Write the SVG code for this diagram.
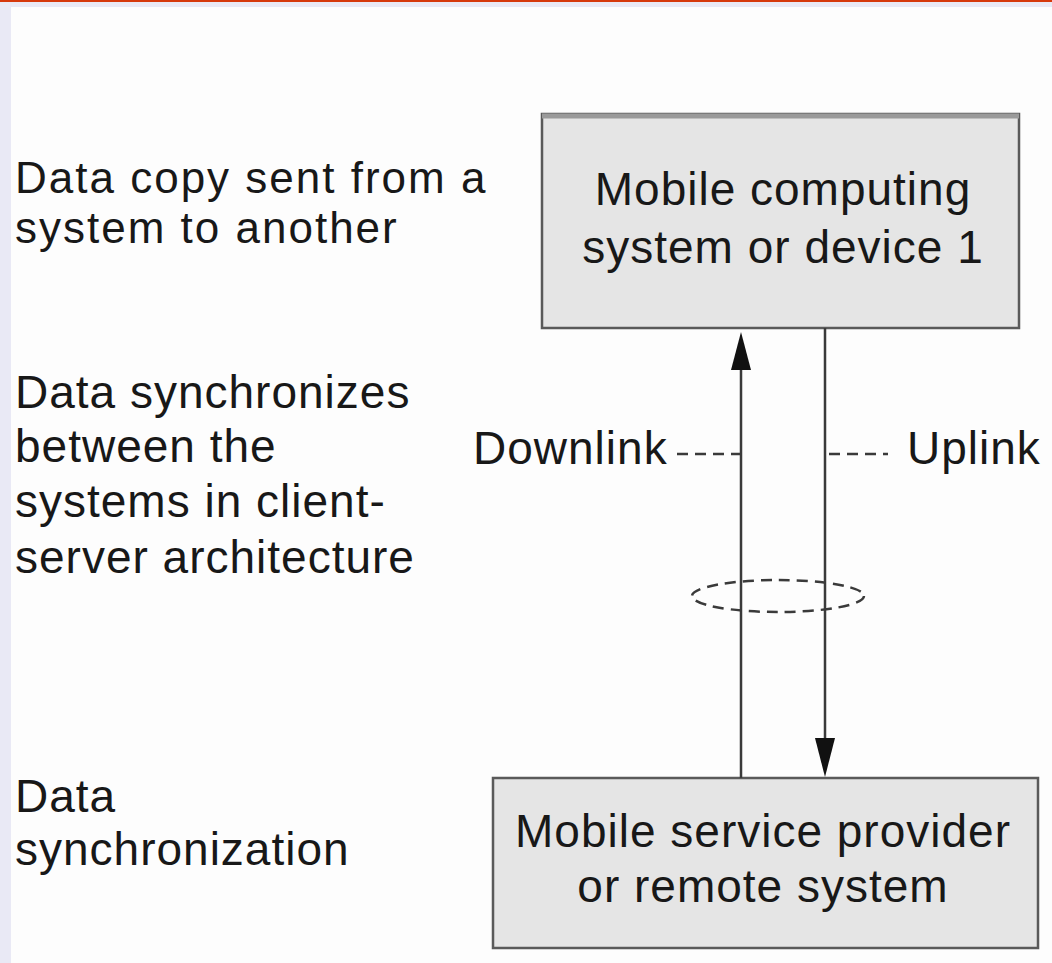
<svg xmlns="http://www.w3.org/2000/svg" width="1052" height="963" viewBox="0 0 1052 963">
  <defs>
    <style>
      .t { font-family: "Liberation Sans", Arial, sans-serif; font-size: 46px; fill: #181818; letter-spacing: 1px; }
      .s { font-size: 44px; letter-spacing: 2px; }
      .c { text-anchor: middle; }
      .box { fill: #e5e5e5; stroke: #5a5a5a; stroke-width: 2.5; }
      .ln { stroke: #3a3a3a; stroke-width: 2.5; fill: none; }
      .dash { stroke: #3a3a3a; stroke-width: 2.5; fill: none; stroke-dasharray: 11 7; }
      .head { fill: #111; }
    </style>
  </defs>
  <rect x="0" y="0" width="1052" height="963" fill="#e9e9f5"/>
  <rect x="11" y="7" width="1041" height="956" fill="#fdfdfd"/>
  <rect x="0" y="0" width="1052" height="2" fill="#d6390c"/>

  <g id="labels">
    <text class="t s" x="15" y="193">Data copy sent from a</text>
    <text class="t s" x="15" y="243">system to another</text>
    <text class="t" x="15" y="408">Data synchronizes</text>
    <text class="t" x="15" y="462">between the</text>
    <text class="t" x="15" y="517">systems in client-</text>
    <text class="t" x="15" y="573">server architecture</text>
    <text class="t" x="15" y="812">Data</text>
    <text class="t" x="15" y="865">synchronization</text>
  </g>

  <g id="node-device">
    <rect class="box" x="542" y="114" width="477" height="214"/>
    <line x1="542" y1="116" x2="1019" y2="116" stroke="#9a9a9a" stroke-width="5"/>
    <text class="t c" x="783" y="205">Mobile computing</text>
    <text class="t c" x="783" y="263">system or device 1</text>
  </g>

  <g id="node-provider">
    <rect class="box" x="493" y="778" width="545" height="170"/>
    <text class="t c" x="763" y="847">Mobile service provider</text>
    <text class="t c" x="763" y="902">or remote system</text>
  </g>

  <g id="connectors">
    <line class="ln" x1="741" y1="778" x2="741" y2="360"/>
    <polygon class="head" points="741,332 731,370 751,370"/>
    <line class="ln" x1="825" y1="328" x2="825" y2="745"/>
    <polygon class="head" points="825,777 815,738 835,738"/>
    <line class="dash" x1="677" y1="454" x2="741" y2="454"/>
    <line class="dash" x1="829" y1="454" x2="888" y2="454"/>
    <ellipse class="dash" cx="778" cy="596" rx="86" ry="16"/>
  </g>

  <g id="link-labels">
    <text class="t" x="473" y="464">Downlink</text>
    <text class="t" x="907" y="464">Uplink</text>
  </g>
</svg>
